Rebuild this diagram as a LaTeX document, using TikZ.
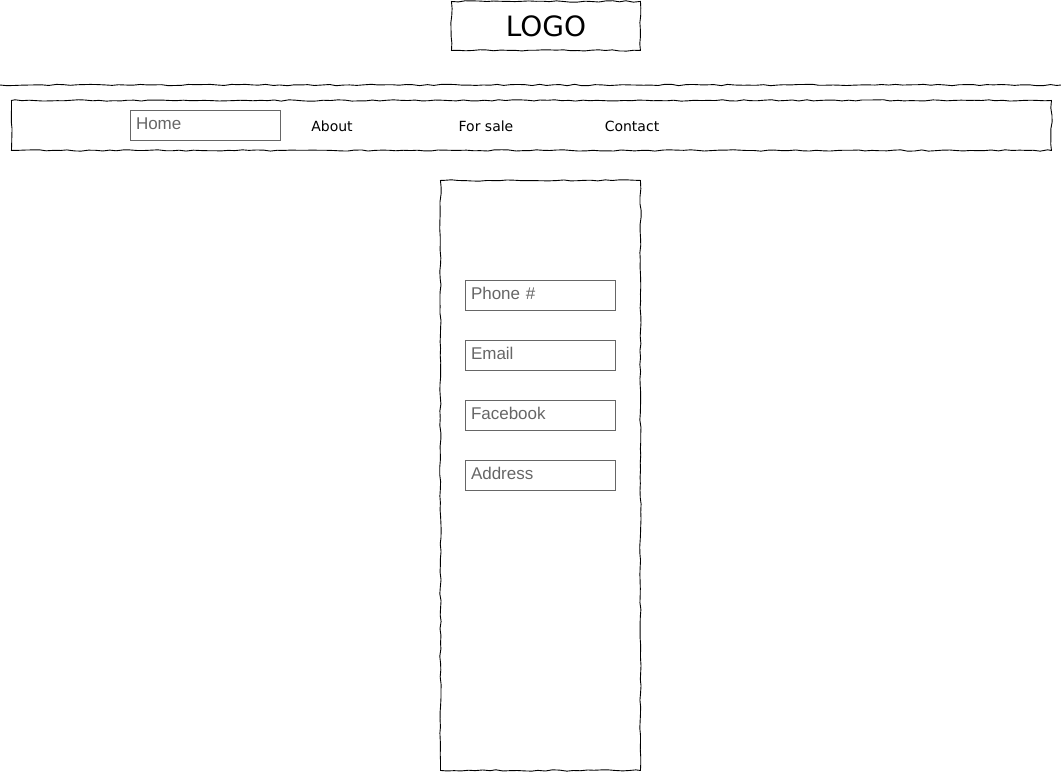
\documentclass[tikz,border=0pt]{standalone}
\usepackage{fontspec}
\setmainfont{Liberation Sans}
\newfontfamily\navfont{DejaVu Sans}
\usetikzlibrary{positioning,decorations.pathmorphing}
\definecolor{hint}{HTML}{666666}
\tikzstyle{sketch}=[draw=black,line width=.9pt,decorate,decoration={random steps,segment length=7pt,amplitude=.7pt}]
\tikzstyle{box}=[sketch,rectangle,inner sep=0pt,anchor=north west]
\tikzstyle{field}=[rectangle,draw=hint,line width=.8pt,outer sep=0pt,anchor=north west,minimum width=150pt,minimum height=30pt,text width=138pt,inner xsep=6pt,inner ysep=0pt,text height=12pt,text depth=4pt,align=left,text=hint,font=\fontsize{17}{20}\selectfont]
\tikzstyle{nav}=[font=\navfont\fontsize{14}{16}\selectfont]

\begin{document}
\begin{tikzpicture}[x=1pt,y=-1pt]
\pgfmathsetseed{7}
\useasboundingbox (0,0) rectangle (1061,772);
% header
\node[box,minimum width=189pt,minimum height=49pt,font=\navfont\fontsize{28}{30}\selectfont] (logo) at (451,1) {LOGO};
\draw[sketch] (0,85) -- (1061,85);
% menu
\node[box,minimum width=1040pt,minimum height=50pt] (menu) at (11,100) {};
\node[field] (home) at (130,110) {Home};
\node[nav] (about) at (332,126) {About};
\node[nav] (sale) at (486,126) {For sale};
\node[nav] (contact) at (632,126) {Contact};
% contact panel
\node[box,minimum width=200pt,minimum height=590pt] (panel) at (440,180) {};
\node[field] (phone) at (465,280) {Phone \#};
\node[field,below=30pt of phone] (email) {Email};
\node[field,below=30pt of email] (facebook) {Facebook};
\node[field,below=30pt of facebook] (address) {Address};
\end{tikzpicture}
\end{document}
